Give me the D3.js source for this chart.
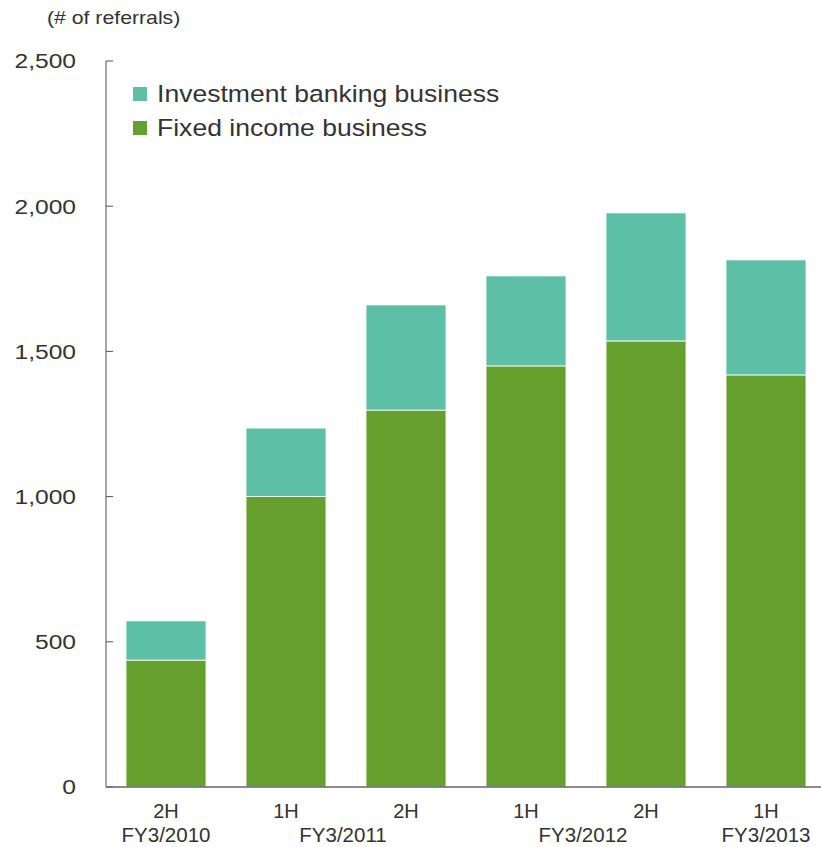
<!DOCTYPE html>
<html>
<head>
<meta charset="utf-8">
<script src="https://cdn.jsdelivr.net/npm/d3@7"></script>
<style>
  html, body { margin: 0; padding: 0; background: #fff; }
  svg text { font-family: "Liberation Sans", Arial, sans-serif; fill: #333; }
</style>
</head>
<body>
<svg id="chart" width="821" height="847"></svg>
<script>
// Referral counts by half-year period
const halves = ["2H", "1H", "2H", "1H", "2H", "1H"];
const fixedIncome = [437, 1000, 1298, 1450, 1536, 1419];
const investmentBanking = [135, 236, 362, 310, 441, 396];
const fiscalYears = ["FY3/2010", "FY3/2011", "FY3/2012", "FY3/2013"];
// each fiscal-year label sits under a bar index (fractional = between bars)
const fiscalYearPos = [0, 1.5, 3.5, 5];
const yTicks = [0, 500, 1000, 1500, 2000, 2500];

const colors = { ib: "#5dbfa6", fi: "#66a02e" };

const svg = d3.select("#chart");
const x0 = 106, x1 = 826, yBottom = 787, yTop = 61;

const x = d3.scaleBand()
  .domain(d3.range(halves.length))
  .range([x0, x1])
  .paddingInner(1 / 3)
  .paddingOuter(1 / 6);

const y = d3.scaleLinear().domain([0, 2500]).range([yBottom, yTop]);

// position text, optionally set a little wide
const place = (px, py, sx = 1) => `translate(${px},${py}) scale(${sx},1)`;

// y axis line with inward ticks
svg.append("line")
  .attr("x1", x0).attr("x2", x0)
  .attr("y1", y(0)).attr("y2", y(2500))
  .attr("stroke", "#888").attr("stroke-width", 1.5);

svg.selectAll(".ytick").data(yTicks).join("line")
  .attr("x1", x0).attr("x2", x0 + 7)
  .attr("y1", d => y(d)).attr("y2", d => y(d))
  .attr("stroke", "#555").attr("stroke-width", 1);

svg.selectAll(".ylabel").data(yTicks).join("text")
  .attr("transform", d => place(76, y(d), 1.2))
  .attr("dy", "0.36em")
  .attr("text-anchor", "end")
  .attr("font-size", 20.5)
  .text(d => d3.format(",")(d));

svg.append("text")
  .attr("transform", place(47, 24, 1.18))
  .attr("font-size", 18)
  .text("(# of referrals)");

// stacked bars
const stackData = halves.map((h, i) => ({ i, fi: fixedIncome[i], ib: investmentBanking[i] }));
const series = d3.stack().keys(["fi", "ib"])(stackData);

svg.append("g").selectAll("g").data(series).join("g")
  .attr("fill", d => colors[d.key])
  .selectAll("rect").data(d => d).join("rect")
  .attr("x", d => x(d.data.i))
  .attr("width", x.bandwidth())
  .attr("y", d => y(d[1]))
  .attr("height", d => y(d[0]) - y(d[1]))
  .attr("stroke", "#fff").attr("stroke-width", 0.8);

// x axis baseline
svg.append("line")
  .attr("x1", x0).attr("x2", 821)
  .attr("y1", y(0)).attr("y2", y(0))
  .attr("stroke", "#666").attr("stroke-width", 1.5);

svg.selectAll(".half").data(halves).join("text")
  .attr("transform", (d, i) => place(x(i) + x.bandwidth() / 2, 818))
  .attr("text-anchor", "middle")
  .attr("font-size", 20)
  .text(d => d);

svg.selectAll(".fy").data(fiscalYears).join("text")
  .attr("transform", (d, i) => place(
    x(0) + x.bandwidth() / 2 + fiscalYearPos[i] * x.step() - (fiscalYearPos[i] % 1 ? 3 : 0), 842))
  .attr("text-anchor", "middle")
  .attr("font-size", 20.5)
  .text(d => d);

// legend
const legend = [
  { label: "Investment banking business", color: colors.ib },
  { label: "Fixed income business", color: colors.fi }
];
const lg = svg.append("g").selectAll("g").data(legend).join("g")
  .attr("transform", (d, i) => `translate(133, ${94 + i * 34})`);
lg.append("rect").attr("x", 0).attr("y", -7).attr("width", 14).attr("height", 14).attr("fill", d => d.color);
lg.append("text")
  .attr("transform", place(24, 0, 1.14))
  .attr("dy", "0.36em").attr("font-size", 23.3)
  .text(d => d.label);
</script>
</body>
</html>
